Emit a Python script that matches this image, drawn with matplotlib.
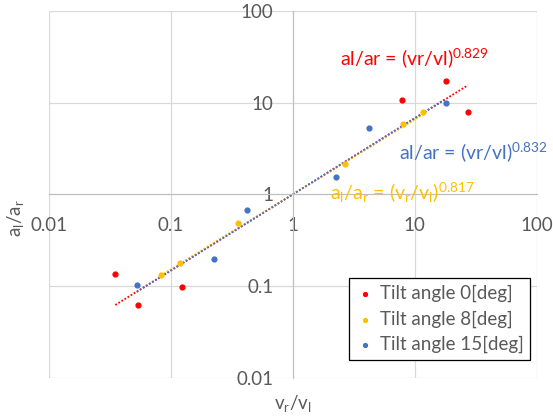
import numpy as np
import matplotlib
matplotlib.use("Agg")
import matplotlib.pyplot as plt

plt.rcParams['font.family'] = ['Lato', 'DejaVu Sans']
plt.rcParams['mathtext.fontset'] = 'custom'
plt.rcParams['mathtext.rm'] = 'Lato'
plt.rcParams['mathtext.it'] = 'Lato'

# datos (vr/vl, al/ar)
x_tilt0 = [0.035, 0.0535, 0.123, 7.79, 17.9, 27.3]
y_tilt0 = [0.134, 0.0616, 0.0975, 10.7, 17.2, 7.90]
x_tilt8 = [0.0822, 0.118, 0.357, 2.69, 8.05, 11.6]
y_tilt8 = [0.132, 0.178, 0.483, 2.13, 5.89, 7.90]
x_tilt15 = [0.0525, 0.225, 0.423, 2.25, 4.20, 18.0]
y_tilt15 = [0.1025, 0.1985, 0.674, 1.53, 5.28, 9.97]

exponentes = [0.829, 0.817, 0.832]
etiquetas = ['Tilt angle 0[deg]', 'Tilt angle 8[deg]', 'Tilt angle 15[deg]']
colores = ['#FF0000', '#FFC000', '#4472C4']

ticks = [0.01, 0.1, 1, 10, 100]
tick_labels = ['0.01', '0.1', '1', '10', '100']

gris = '#595959'

fig = plt.figure(figsize=(5.53, 4.16), dpi=100)
ax = fig.add_axes([49/553, 1-377.7/416, (536.7-49)/553, (377.7-11)/416])
ax.set_xscale('log')
ax.set_yscale('log')
ax.set_xlim(0.01, 100)
ax.set_ylim(0.01, 100)

ax.set_xticks(ticks)
ax.set_xticklabels(tick_labels)
ax.set_yticks(ticks)
ax.set_yticklabels(tick_labels)
ax.xaxis.set_minor_locator(matplotlib.ticker.NullLocator())
ax.yaxis.set_minor_locator(matplotlib.ticker.NullLocator())
ax.grid(True, color='#D9D9D9', linewidth=0.9)
ax.set_axisbelow(True)

# ejes cruzando en (1,1) como en excel
ax.spines['bottom'].set_position(('data', 1))
ax.spines['left'].set_position(('data', 1))
ax.spines['bottom'].set_color('#BFBFBF')
ax.spines['left'].set_color('#BFBFBF')
ax.spines['top'].set_visible(False)
ax.spines['right'].set_visible(False)
ax.tick_params(axis='x', length=0, pad=16, labelsize=13.5, labelcolor=gris)
ax.tick_params(axis='y', length=0, pad=14, labelsize=13.5, labelcolor=gris)

series = [(x_tilt0, y_tilt0), (x_tilt8, y_tilt8), (x_tilt15, y_tilt15)]
for (xs, ys), lab, col in zip(series, etiquetas, colores):
    ax.scatter(xs, ys, s=12, color=col, label=lab, zorder=3)

# lineas de tendencia potenciales
for (xs, ys), k, col in zip(series, exponentes, colores):
    xt = np.logspace(np.log10(min(xs)), np.log10(max(xs)), 100)
    ax.plot(xt, xt**k, color=col, linestyle=(0, (1, 1)), linewidth=1.3, zorder=2)

ax.text(340/553, 1-58/416, 'al/ar = (vr/vl)$^{0.829}$', transform=fig.transFigure,
        color=colores[0], fontsize=14, va='center', ha='left')
ax.text(399/553, 1-152/416, 'al/ar = (vr/vl)$^{0.832}$', transform=fig.transFigure,
        color=colores[2], fontsize=14, va='center', ha='left')
ax.text(330/553, 1-193/416, r'a$_\mathrm{l}$/a$_\mathrm{r}$ = (v$_\mathrm{r}$/v$_\mathrm{l}$)$^{0.817}$',
        transform=fig.transFigure, color=colores[1], fontsize=14, va='center', ha='left')

fig.text(293/553, 1-404/416, r'v$_\mathrm{r}$/v$_\mathrm{l}$', color=gris, fontsize=13.5,
         ha='center', va='center')
fig.text(15/553, 1-218/416, r'a$_\mathrm{l}$/a$_\mathrm{r}$', color=gris, fontsize=13.5,
         ha='center', va='center', rotation=90)

leg = ax.legend(loc='upper left', bbox_to_anchor=(349/553, 1-278/416),
                bbox_transform=fig.transFigure, borderaxespad=0, fontsize=13.5,
                frameon=True, fancybox=False, framealpha=1, edgecolor='black',
                handletextpad=0.3, handlelength=1.0, labelspacing=0.45, borderpad=0.35,
                markerscale=0.8)
leg.get_frame().set_linewidth(0.9)
for t in leg.get_texts():
    t.set_color(gris)

fig.savefig('out.png', dpi=100)
